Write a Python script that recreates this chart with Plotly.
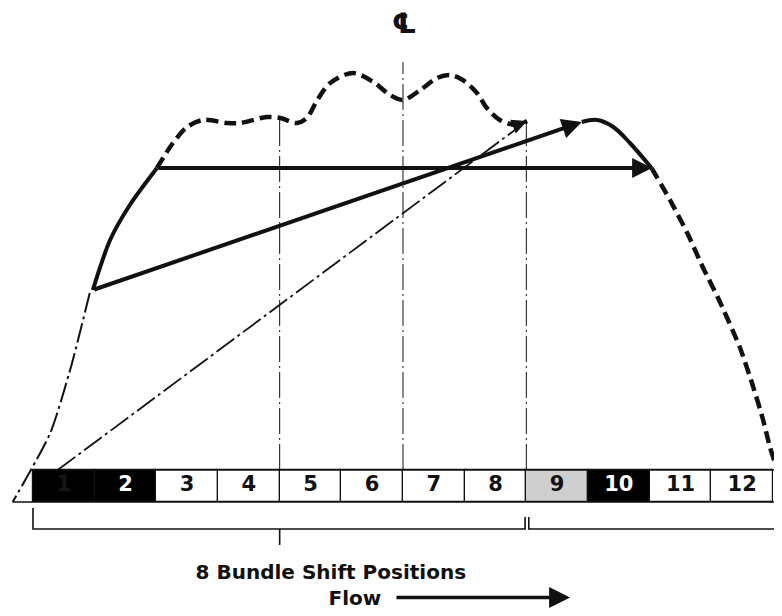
import plotly.graph_objects as go

# ---- data (x in bundle-cell widths from the left edge of cell 1, y in relative height units) ----
cell_labels = ["1", "2", "3", "4", "5", "6", "7", "8", "9", "10", "11", "12"]
dark_cells = ["1", "2", "10"]
mottled_cells = ["9"]
cell_height = 8

# dashed top profile (between the two solid segments)
profile_x = [2.01, 2.27, 2.50, 2.76, 3.15, 3.36, 3.79, 4.01, 4.28, 4.44, 4.61, 4.82,
             5.19, 5.52, 5.79, 6.00, 6.28, 6.55, 6.76, 6.97, 7.20, 7.36, 7.57, 7.85, 8.01]
profile_y = [75.5, 81.75, 85.75, 87.5, 86.75, 86.75, 88.25, 88.0, 86.75, 88.0, 92.5, 96.75,
             99.25, 97.0, 93.75, 92.5, 95.0, 98.0, 98.75, 97.5, 94.25, 90.5, 87.5, 86.25, 87.25]

# solid left flank
left_solid_x = [0.97, 1.25, 1.57, 2.01]
left_solid_y = [45.0, 57.5, 66.25, 75.5]

# dash-dot left foot
left_foot_x = [0.92, 0.62, 0.28, -0.33]
left_foot_y = [44.25, 26.0, 9.25, -8.0]

# solid right crest
right_solid_x = [8.90, 9.15, 9.41, 9.68, 10.03]
right_solid_y = [87.0, 87.5, 85.75, 81.75, 75.5]

# dashed right flank
right_dash_x = [10.03, 10.33, 10.61, 10.86, 11.11, 11.46, 11.68, 11.84, 11.95, 12.07, 12.16]
right_dash_y = [75.5, 67.5, 59.25, 50.75, 43.0, 30.75, 20.75, 12.5, 5.75, 0.0, -4.5]

# straight arrows / lines
shift_arrow_x = [0.97, 8.90]
shift_arrow_y = [45.0, 87.0]
level_arrow_x = [2.01, 10.04]
level_arrow_y = [75.5, 75.5]
diag_x = [0.40, 8.01]
diag_y = [0.0, 87.25]
flow_arrow_x = [5.87, 8.71]
flow_arrow_y = [-31.9, -31.9]

# reference verticals: bundle boundaries 4|5, centre line 6|7, 8|9
ref_x = [4, 6, 8]
ref_top = [87.5, 102.0, 87.5]

# brackets below the cells
bracket1_x = [0, 0, 7.98, 7.98]
bracket1_y = [-9.5, -14.75, -14.75, -11.75]
bracket2_x = [8.04, 8.04, 12.08]
bracket2_y = [-11.75, -14.75, -14.75]
tick_x = [4, 4]
tick_y = [-14.75, -18.75]

bracket_label = "8 Bundle Shift Positions"
flow_label = "Flow"
cl_label = "\u2104"

BLACK = "#111111"
FONT = "DejaVu Sans"

fig = go.Figure()

# cells as bars
cell_centres = [i + 0.5 for i in range(len(cell_labels))]
fills = []
txt_cols = []
for lab in cell_labels:
    if lab in dark_cells:
        fills.append("#000000")
        txt_cols.append("#161616" if lab == "1" else "white")
    elif lab in mottled_cells:
        fills.append("#cfcfcf")
        txt_cols.append(BLACK)
    else:
        fills.append("white")
        txt_cols.append(BLACK)

fig.add_trace(go.Bar(x=cell_centres, y=[cell_height] * 12, base=[-cell_height] * 12, width=1,
                     marker=dict(color=fills, line=dict(color=BLACK, width=1.2)),
                     hoverinfo="skip"))
fig.add_trace(go.Scatter(x=cell_centres, y=[-cell_height / 2] * 12, mode="text", text=cell_labels,
                         textfont=dict(family=FONT, size=21, color=txt_cols, weight="bold"),
                         hoverinfo="skip"))

# row outline extensions
fig.add_trace(go.Scatter(x=[0, 12.15], y=[0, 0], mode="lines", line=dict(color=BLACK, width=1.5)))
fig.add_trace(go.Scatter(x=[-0.33, 12.15], y=[-cell_height, -cell_height], mode="lines",
                         line=dict(color=BLACK, width=1.5)))

# reference verticals
for xv, top in zip(ref_x, ref_top):
    fig.add_trace(go.Scatter(x=[xv, xv], y=[0, top], mode="lines",
                             line=dict(color=BLACK, width=1, dash="26px,4px,2px,4px")))

# diagonal thin dash-dot
fig.add_trace(go.Scatter(x=diag_x, y=diag_y, mode="lines",
                         line=dict(color=BLACK, width=1.8, dash="22px,4px,3px,4px")))

# left foot dash-dot
fig.add_trace(go.Scatter(x=left_foot_x, y=left_foot_y, mode="lines", line_shape="spline",
                         line=dict(color=BLACK, width=2, dash="20px,4px,3px,4px", smoothing=0.6)))

# dashed top profile
fig.add_trace(go.Scatter(x=profile_x, y=profile_y, mode="lines", line_shape="spline",
                         line=dict(color=BLACK, width=4.5, dash="12px,6px", smoothing=0.9)))

# dashed right flank
fig.add_trace(go.Scatter(x=right_dash_x, y=right_dash_y, mode="lines", line_shape="spline",
                         line=dict(color=BLACK, width=4.5, dash="12px,6px", smoothing=0.6)))

# solid pieces
fig.add_trace(go.Scatter(x=left_solid_x, y=left_solid_y, mode="lines", line_shape="spline",
                         line=dict(color=BLACK, width=4, smoothing=0.8)))
fig.add_trace(go.Scatter(x=right_solid_x, y=right_solid_y, mode="lines", line_shape="spline",
                         line=dict(color=BLACK, width=4)))

# brackets
for bx, by in [(bracket1_x, bracket1_y), (bracket2_x, bracket2_y), (tick_x, tick_y)]:
    fig.add_trace(go.Scatter(x=bx, y=by, mode="lines", line=dict(color=BLACK, width=1.6)))

# texts
fig.add_trace(go.Scatter(x=[4.83], y=[-26.0], mode="text", text=[bracket_label],
                         textfont=dict(family=FONT, size=20, color=BLACK, weight="bold")))
fig.add_trace(go.Scatter(x=[5.22], y=[-32.5], mode="text", text=[flow_label],
                         textfont=dict(family=FONT, size=20, color=BLACK, weight="bold")))
fig.add_trace(go.Scatter(x=[6.02], y=[111.0], mode="text", text=[cl_label],
                         textfont=dict(family=FONT, size=28, color=BLACK, weight="bold")))

# arrows
def arrow(x0, y0, x1, y1, w, size):
    fig.add_annotation(x=x1, y=y1, ax=x0, ay=y0, xref="x", yref="y", axref="x", ayref="y",
                       text="", showarrow=True, arrowhead=2, arrowwidth=w, arrowsize=size,
                       arrowcolor=BLACK, standoff=0, startstandoff=0)

arrow(shift_arrow_x[0], shift_arrow_y[0], shift_arrow_x[1], shift_arrow_y[1], 4, 1.0)
arrow(level_arrow_x[0], level_arrow_y[0], level_arrow_x[1], level_arrow_y[1], 4, 1.0)
arrow(profile_x[-2], profile_y[-2], profile_x[-1], profile_y[-1], 3, 1.0)
arrow(flow_arrow_x[0], flow_arrow_y[0], flow_arrow_x[1], flow_arrow_y[1], 3.5, 1.2)

# the page body keeps an 8px margin, so the figure is 8px smaller and the axes ranges
# are chosen so the drawing lands where the reference shows it
fig.update_layout(width=774, height=608, margin=dict(l=0, r=0, t=0, b=0),
                  paper_bgcolor="white", plot_bgcolor="white", showlegend=False,
                  bargap=0,
                  xaxis=dict(range=[-0.4054, 12.146], visible=False, fixedrange=True),
                  yaxis=dict(range=[-36.5, 115.5], visible=False, fixedrange=True))

fig.write_html("out.html")
